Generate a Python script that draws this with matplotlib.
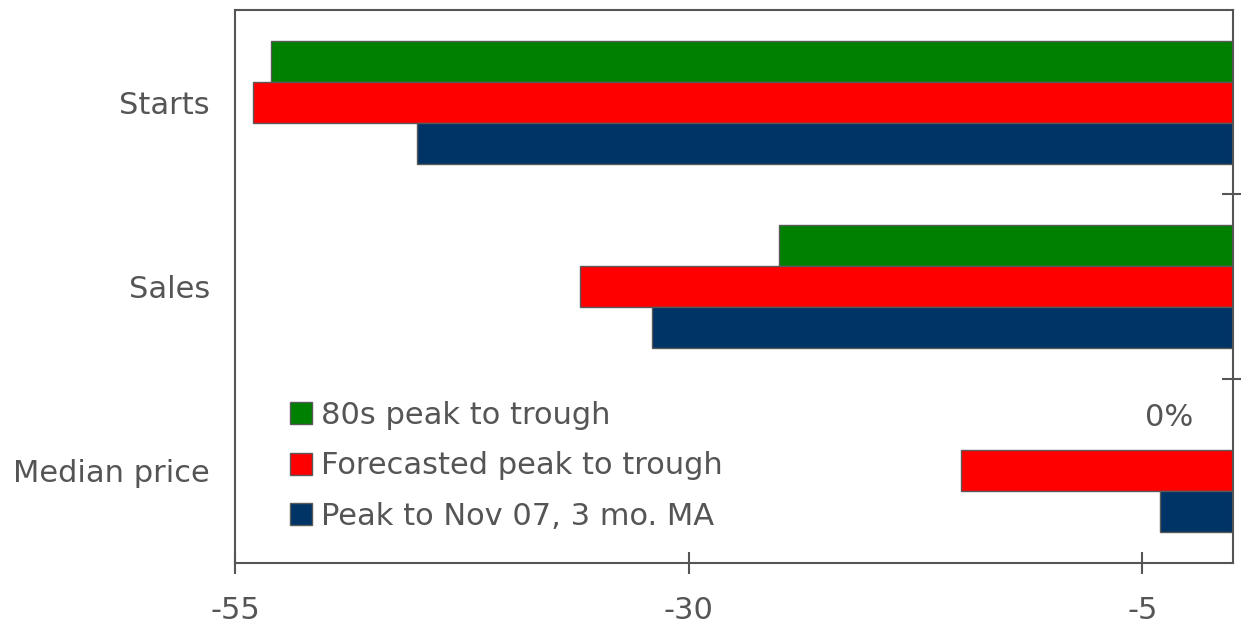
import matplotlib.pyplot as plt
import numpy as np

categories = ['Starts', 'Sales', 'Median price']
series_names = ['80s peak to trough', 'Forecasted peak to trough', 'Peak to Nov 07, 3 mo. MA']
eighties = [-53, -25, 0]
forecast = [-54, -36, -15]
to_nov07 = [-45, -32, -4]
xticks = [-55, -30, -5]

GREY = '#555555'
colors = ['#008000', '#FF0000', '#003366']
FS = 22

plt.rcParams['font.family'] = ['DejaVu Sans']

fig = plt.figure(figsize=(12.41, 6.29), dpi=100)
ax = fig.add_axes([0.1894, 0.105, 0.8042, 0.879])

y = np.arange(len(categories))
h = 0.222
for k, (vals, name) in enumerate(zip([eighties, forecast, to_nov07], series_names)):
    ax.barh(y + (k - 1) * h, vals, height=h, color=colors[k],
            edgecolor='#5a5a5a', linewidth=1.0, label=name)

# zero-valued bar gets an explicit label
ax.annotate('0%', xy=(eighties[2], y[2] - h), xytext=(-46, 9),
            textcoords='offset points', ha='center', va='center',
            fontsize=FS, color=GREY)

ax.set_xlim(-55, 0)
ax.set_ylim(2.5, -0.5)

ax.set_xticks(xticks)
ax.set_xticklabels([str(t) for t in xticks])
ax.tick_params(axis='x', direction='inout', length=16, width=1.5,
               color=GREY, labelsize=FS, labelcolor=GREY, pad=16)

ax.set_yticks(y)
ax.set_yticklabels(categories)
ax.tick_params(axis='y', which='major', left=True, right=False, length=0,
               labelsize=FS, labelcolor=GREY, pad=18)
ax.set_yticks([0.5, 1.5], minor=True)
ax.tick_params(axis='y', which='minor', left=False, right=True,
               direction='inout', length=16, width=1.5, color=GREY)

for s in ax.spines.values():
    s.set_color(GREY)
    s.set_linewidth(1.5)

ax.legend(loc='lower left', bbox_to_anchor=(0.043, 0.036), frameon=False,
          fontsize=FS, labelcolor=GREY, handlelength=0.72, handleheight=0.72,
          handletextpad=0.28, labelspacing=0.7, borderaxespad=0)

fig.savefig('out.png', dpi=100)
